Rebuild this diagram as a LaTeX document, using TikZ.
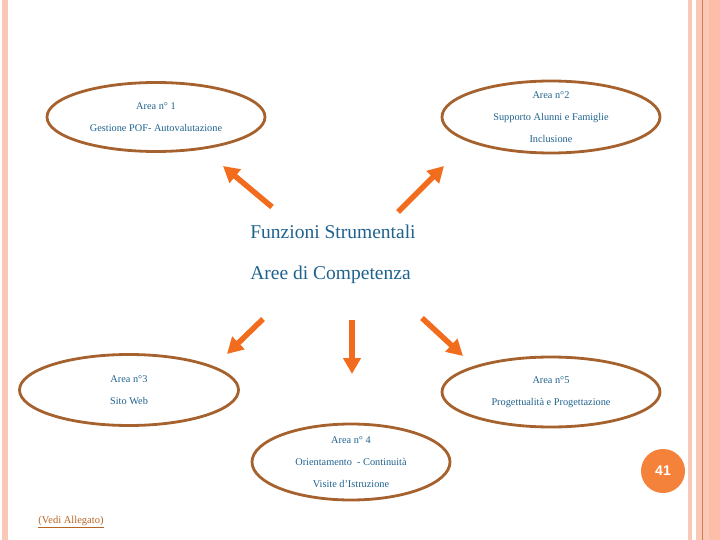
\documentclass[tikz,border=0pt]{standalone}
\usepackage{fontspec}
\setmainfont{Liberation Serif}
\newfontfamily\numfont{Liberation Sans}
\usetikzlibrary{shapes.geometric,arrows.meta}
\definecolor{testoblu}{RGB}{31,98,142}
\definecolor{bordo}{RGB}{166,98,46}
\definecolor{freccia}{RGB}{242,108,30}
\definecolor{cerchio}{RGB}{245,130,58}
\definecolor{fascia}{RGB}{250,200,182}
\definecolor{fasciascura}{RGB}{252,190,168}
\definecolor{linea}{RGB}{214,124,70}
\definecolor{link}{RGB}{184,100,36}
\tikzset{
  areabox/.style={draw=bordo, line width=2.8pt, ellipse, inner sep=0pt},
  areatext/.style={text=testoblu, align=center, font=\fontsize{10.3}{22}\selectfont},
  titolo/.style={text=testoblu, font=\fontsize{19.5}{41}\selectfont, align=left},
  freccia/.style={draw=freccia, line width=5.5pt, -{Triangle[length=16pt,width=17pt]}}
}
\begin{document}
\begin{tikzpicture}[x=1pt, y=-1pt]
\useasboundingbox (0,0) rectangle (720,540);
% Fasce laterali
\fill[fascia] (2,0) rectangle (8,540);
\fill[fascia] (688,0) rectangle (692,540);
\fill[fascia] (696,0) rectangle (709,540);
\fill[fasciascura] (709,0) rectangle (720,540);
\fill[linea] (702,0) rectangle (703.2,540);

% Aree
\node[areabox, minimum width=218pt, minimum height=69pt] (area1) at (156,117) {};
\node[areabox, minimum width=218pt, minimum height=72pt] (area2) at (551,117) {};
\node[areabox, minimum width=219pt, minimum height=71pt] (area3) at (129,390) {};
\node[areabox, minimum width=198pt, minimum height=76pt] (area4) at (351,462) {};
\node[areabox, minimum width=218pt, minimum height=70pt] (area5) at (551,392) {};

\node[areatext] (testo1) at (area1) {Area n° 1\\Gestione POF- Autovalutazione};
\node[areatext] (testo2) at (area2) {Area n°2\\Supporto Alunni e Famiglie\\Inclusione};
\node[areatext] (testo3) at (area3) {Area n°3\\Sito Web};
\node[areatext] (testo4) at (area4) {Area n° 4\\Orientamento ~- Continuità\\Visite d’Istruzione};
\node[areatext] (testo5) at (area5) {Area n°5\\Progettualità e Progettazione};

% Centro
\node[titolo] (centro) at (333,254) {Funzioni Strumentali\\Aree di Competenza};

% Frecce
\coordinate (c1) at (272,207);  \coordinate (p1) at (223,166);
\coordinate (c2) at (398,212);  \coordinate (p2) at (444,166);
\coordinate (c3) at (263,319);  \coordinate (p3) at (227,354);
\coordinate (c4) at (352,320);  \coordinate (p4) at (352,374);
\coordinate (c5) at (422,318);  \coordinate (p5) at (463,356);
\foreach \i in {1,...,5}
  \draw[freccia] (c\i) -- (p\i);

% Numero pagina
\node[circle, fill=cerchio, minimum size=44pt, inner sep=0pt, text=white,
  font=\numfont\bfseries\fontsize{14}{16}\selectfont] (pagina) at (663,471) {41};

% Allegato
\node[text=link, font=\fontsize{10.5}{12}\selectfont] (allegato) at (71,522) {\underline{(Vedi Allegato)}};
\end{tikzpicture}
\end{document}
